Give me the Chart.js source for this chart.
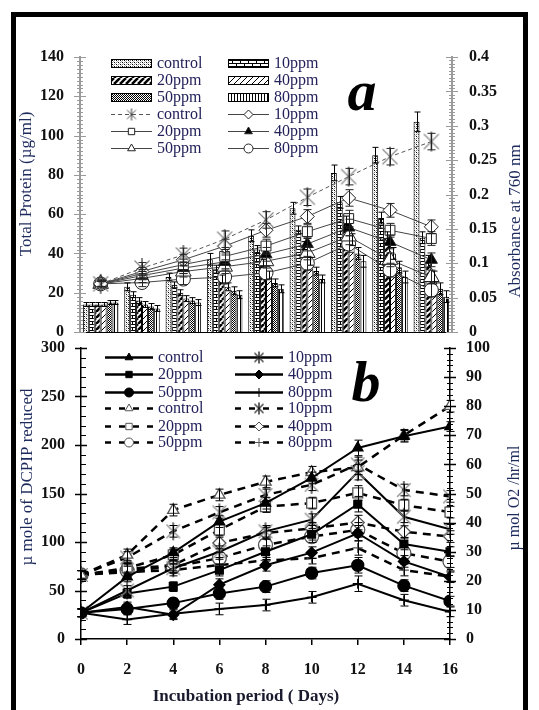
<!DOCTYPE html>
<html>
<head>
<meta charset="utf-8">
<script src="https://cdn.jsdelivr.net/npm/chart.js@4.4.0/dist/chart.umd.min.js"></script>
<style>
  html, body { margin: 0; padding: 0; background: #fff; }
  body { width: 539px; height: 710px; position: relative; overflow: hidden; }
  #marco { position: absolute; left: 11px; top: 12px; width: 507px; height: 720px; border: 5px solid #000; }
  .caja { position: absolute; left: 0; width: 539px; }
  #cajaA { top: 0; height: 345px; }
  #cajaB { top: 336px; height: 374px; }
</style>
</head>
<body>
<div id="marco"></div>
<div class="caja" id="cajaA"><canvas id="chartA"></canvas></div>
<div class="caja" id="cajaB"><canvas id="chartB"></canvas></div>
<script>
// ---- datos ----
const dias = [0, 2, 4, 6, 8, 10, 12, 14, 16];

// panel a: proteina total (barras, µg/ml)
const protControl = [14, 23, 28, 37, 49, 63, 81, 90, 107];
const prot10 = [14, 19, 24, 32, 42, 52, 66, 58, 48];
const prot20 = [14, 16, 20, 27, 35, 44, 56, 48, 36];
const prot40 = [14, 14, 17, 23, 29, 36, 47, 40, 28];
const prot50 = [15, 13, 16, 21, 25, 31, 40, 33, 22];
const prot80 = [15, 12, 15, 19, 22, 27, 36, 28, 18];
const errProtControl = [1, 2, 2, 3, 3, 3, 4, 4, 5];
const errProt = [1, 1.5, 1.5, 2, 2, 2, 3, 3, 3];

// panel a: absorbancia a 760 nm (lineas)
const absControl = [0.07, 0.093, 0.112, 0.135, 0.163, 0.196, 0.226, 0.255, 0.277];
const abs10 = [0.07, 0.088, 0.105, 0.125, 0.148, 0.168, 0.195, 0.177, 0.153];
const abs20 = [0.07, 0.085, 0.098, 0.110, 0.125, 0.146, 0.165, 0.148, 0.136];
const abs40 = [0.07, 0.082, 0.093, 0.102, 0.113, 0.128, 0.152, 0.131, 0.105];
const abs50 = [0.07, 0.078, 0.088, 0.095, 0.103, 0.115, 0.139, 0.105, 0.080];
const abs80 = [0.07, 0.072, 0.077, 0.080, 0.086, 0.100, 0.128, 0.090, 0.061];
const errAbsControl = [0.006, 0.008, 0.01, 0.012, 0.012, 0.012, 0.012, 0.012, 0.012];
const errAbs = [0.004, 0.006, 0.008, 0.01, 0.01, 0.01, 0.012, 0.01, 0.01];

// panel b: DCPIP reducido (lineas continuas)
const dcpipControl = [27, 64, 89, 121, 140, 166, 197, 209, 219];
const dcpip10 = [27, 50, 73, 90, 111, 123, 172, 126, 113];
const dcpip20 = [27, 47, 54, 71, 90, 108, 139, 98, 90];
const dcpip40 = [27, 33, 25, 56, 76, 89, 109, 80, 64];
const dcpip50 = [27, 31, 37, 47, 54, 68, 76, 55, 39];
const dcpip80 = [27, 20, 26, 31, 35, 43, 57, 40, 28];
const errDcpip = [4, 5, 5, 6, 6, 6, 8, 6, 5];

// panel b: O2 (lineas discontinuas, µ mol O2/hr/ml)
const o2Control = [22, 28.9, 44.3, 49.5, 54, 57.3, 59, 70, 80];
const o2_10 = [22, 28, 37, 43.5, 49.5, 53, 60, 51.2, 49];
const o2_20 = [22, 24.4, 28.9, 37.5, 45.5, 46.7, 50.2, 46, 43.6];
const o2_40 = [22, 24, 25.4, 33, 36.4, 38, 40, 36.9, 35.2];
const o2_50 = [22, 23.5, 24.8, 27.8, 32.3, 35.2, 37.5, 29.5, 26.6];
const o2_80 = [22, 23, 23.7, 25.4, 27, 27.8, 31.3, 23.7, 21.4];
const errO2 = [1.5, 2, 2, 2, 2, 2, 2.5, 2, 2];

// ---- estilos ----
const SERIF = "'Liberation Serif', 'DejaVu Serif', serif";
const fuenteTicks = { family: SERIF, size: 16, weight: 'bold' };
const colorTexto = '#22215a';

const ctxA = document.getElementById('chartA').getContext('2d');
const ctxB = document.getElementById('chartB').getContext('2d');

// Crear un patron de relleno a partir de un pequeño lienzo
function patron(w, h, dibujar) {
    const c = document.createElement('canvas');
    c.width = w; c.height = h;
    const g = c.getContext('2d');
    g.fillStyle = '#fff';
    g.fillRect(0, 0, w, h);
    g.fillStyle = '#000';
    g.strokeStyle = '#000';
    dibujar(g, w, h);
    return ctxA.createPattern(c, 'repeat');
}

function diagonales(g, w, h) {
    g.beginPath();
    for (let k = -1; k <= 1; k++) {
        g.moveTo(k * w, h);
        g.lineTo(k * w + w, 0);
    }
    g.stroke();
}

const patControl = patron(4, 4, g => {
    g.fillRect(0, 0, 1, 1); g.fillRect(2, 2, 1, 1);
    g.fillStyle = '#777';
    g.fillRect(2, 0, 1, 1); g.fillRect(0, 2, 1, 1);
    g.fillStyle = '#bbb';
    g.fillRect(1, 1, 1, 1); g.fillRect(3, 3, 1, 1);
});
const pat10 = patron(8, 6, g => {
    g.fillRect(0, 0, 8, 1); g.fillRect(0, 3, 8, 1);
    g.fillRect(0, 0, 1, 3); g.fillRect(4, 3, 1, 3);
});
const pat20 = patron(6, 6, (g, w, h) => { g.lineWidth = 2.6; diagonales(g, w, h); });
const pat40 = patron(6, 6, (g, w, h) => { g.lineWidth = 1; diagonales(g, w, h); });
const pat50 = patron(4, 4, g => {
    g.fillRect(0, 0, 1, 1); g.fillRect(1, 1, 1, 1); g.fillRect(2, 2, 1, 1); g.fillRect(3, 3, 1, 1);
    g.fillRect(2, 0, 1, 1); g.fillRect(0, 2, 1, 1); g.fillRect(3, 1, 1, 1); g.fillRect(1, 3, 1, 1);
});
const pat80 = patron(3, 1, g => { g.fillRect(0, 0, 1, 1); });

// Marcador tipo asterisco de Excel (X mas barra vertical)
function asterisco(r, colorX, colorV, grosor) {
    const s = Math.ceil(r * 2 + 4);
    const c = document.createElement('canvas');
    c.width = s; c.height = s;
    const g = c.getContext('2d');
    const m = s / 2, d = r * 0.75;
    g.lineWidth = grosor;
    g.strokeStyle = colorX;
    g.beginPath();
    g.moveTo(m - d, m - d); g.lineTo(m + d, m + d);
    g.moveTo(m - d, m + d); g.lineTo(m + d, m - d);
    g.stroke();
    g.strokeStyle = colorV;
    g.beginPath();
    g.moveTo(m, m - r); g.lineTo(m, m + r);
    g.stroke();
    return c;
}
const astA = asterisco(10, '#888', '#333', 1.2);
const astAleyenda = asterisco(6, '#555', '#333', 1);
const astB = asterisco(9, '#8a8a8a', '#222', 1.3);
const astBleyenda = asterisco(6, '#333', '#111', 1.3);

// ---- plugins ----
const barrasError = {
    id: 'barrasError',
    afterDatasetsDraw(chart) {
        const ctx = chart.ctx;
        chart.data.datasets.forEach((ds, i) => {
            if (!ds.errores) return;
            const meta = chart.getDatasetMeta(i);
            const escala = chart.scales[ds.yAxisID];
            const cap = ds.capError || 3;
            ctx.save();
            ctx.strokeStyle = ds.colorError || '#000';
            ctx.lineWidth = 1;
            meta.data.forEach((el, j) => {
                const v = meta.controller.getParsed(j).y;
                const e = ds.errores[j];
                const x = Math.round(el.x) + 0.5;
                const y0 = escala.getPixelForValue(v - e);
                const y1 = escala.getPixelForValue(v + e);
                ctx.beginPath();
                ctx.moveTo(x, y0); ctx.lineTo(x, y1);
                ctx.moveTo(x - cap, y0); ctx.lineTo(x + cap, y0);
                ctx.moveTo(x - cap, y1); ctx.lineTo(x + cap, y1);
                ctx.stroke();
            });
            ctx.restore();
        });
    }
};

// marcas menores y mayores de los ejes verticales
function marcas(ctx, escala, paso, izq, der, color, grosor) {
    const x0 = escala.position === 'left' ? escala.right : escala.left;
    ctx.save();
    ctx.strokeStyle = color;
    ctx.lineWidth = grosor;
    ctx.beginPath();
    const n = Math.round((escala.max - escala.min) / paso);
    for (let k = 0; k <= n; k++) {
        const y = Math.round(escala.getPixelForValue(escala.min + k * paso)) + 0.5;
        ctx.moveTo(x0 - izq, y);
        ctx.lineTo(x0 + der, y);
    }
    ctx.stroke();
    ctx.restore();
}

// ancho fijo del eje y sin relleno extra por las etiquetas
function fijarAncho(ancho) {
    return s => {
        s.width = ancho;
        s.paddingTop = 0; s.paddingBottom = 0;
    };
}

function textoVertical(ctx, texto, x, y, fuente, color) {
    ctx.save();
    ctx.translate(x, y);
    ctx.rotate(-Math.PI / 2);
    ctx.font = fuente;
    ctx.fillStyle = color;
    ctx.textAlign = 'center';
    ctx.textBaseline = 'middle';
    ctx.fillText(texto, 0, 0);
    ctx.restore();
}

function leyenda(ctx, chart, cols, filas, ancho) {
    chart.data.datasets.forEach((ds, i) => {
        const x = cols[i % 2];
        const y = filas[Math.floor(i / 2)];
        ctx.save();
        if ((ds.type || chart.config.type) === 'bar') {
            ctx.fillStyle = ds.backgroundColor;
            ctx.fillRect(x, y - 4, ancho, 8);
            ctx.strokeStyle = '#000';
            ctx.lineWidth = 1;
            ctx.strokeRect(x + 0.5, y - 3.5, ancho - 1, 8);
        } else {
            ctx.strokeStyle = ds.borderColor;
            ctx.lineWidth = ds.leyendaGrosor || ds.borderWidth;
            ctx.setLineDash(ds.leyendaDash || ds.borderDash || []);
            ctx.beginPath();
            ctx.moveTo(x, y + 0.5);
            ctx.lineTo(x + ancho, y + 0.5);
            ctx.stroke();
            ctx.setLineDash([]);
            ctx.fillStyle = ds.pointBackgroundColor;
            ctx.strokeStyle = ds.pointBorderColor;
            ctx.lineWidth = 1;
            Chart.helpers.drawPoint(ctx, {
                pointStyle: ds.leyendaMarca || ds.pointStyle,
                radius: ds.leyendaRadio || 4.5,
                rotation: 0,
                borderWidth: 1
            }, x + ancho / 2, y + 0.5);
        }
        ctx.font = '16px ' + SERIF;
        ctx.fillStyle = colorTexto;
        ctx.textBaseline = 'middle';
        ctx.fillText(ds.label, x + ancho + 5, y + 1);
        ctx.restore();
    });
}

const decorA = {
    id: 'decorA',
    afterDraw(chart) {
        const ctx = chart.ctx;
        const { y, y1 } = chart.scales;
        marcas(ctx, y, 2, 3, 3, '#9a9a9a', 1);
        marcas(ctx, y, 20, 6, 6, '#9a9a9a', 1);
        marcas(ctx, y1, 0.005, 3, 3, '#9a9a9a', 1);
        marcas(ctx, y1, 0.05, 6, 6, '#9a9a9a', 1);
        textoVertical(ctx, 'Total Protein (µg/ml)', 27, 184, '17px ' + SERIF, '#1d2a5c');
        textoVertical(ctx, 'Absorbance at 760 nm', 516, 221, '17px ' + SERIF, '#1d2a5c');
        ctx.save();
        ctx.font = 'italic bold 58px ' + SERIF;
        ctx.fillStyle = '#000';
        ctx.textAlign = 'center';
        ctx.fillText('a', 362, 110);
        ctx.restore();
        leyenda(ctx, chart, [111, 228], [63, 80, 97, 114, 131, 148], 41);
    }
};

const decorB = {
    id: 'decorB',
    afterDraw(chart) {
        const ctx = chart.ctx;
        const { y, y1 } = chart.scales;
        marcas(ctx, y, 10, 0, 5, '#000', 1);
        marcas(ctx, y, 50, 6, 6, '#000', 1.5);
        marcas(ctx, y1, 2, 3, 3, '#000', 1);
        marcas(ctx, y1, 10, 6, 6, '#000', 1.5);
        textoVertical(ctx, 'µ mole of DCPIP reduced', 28, 141, '17px ' + SERIF, '#1d2a5c');
        textoVertical(ctx, 'µ mol O2 /hr/ml', 515, 162, '16px ' + SERIF, '#1d2a5c');
        ctx.save();
        ctx.font = 'bold 17px ' + SERIF;
        ctx.fillStyle = '#1a1a2e';
        ctx.textAlign = 'center';
        ctx.textBaseline = 'middle';
        ctx.fillText('Incubation period ( Days)', 246, 361);
        ctx.font = 'italic bold 58px ' + SERIF;
        ctx.fillStyle = '#000';
        ctx.fillText('b', 366, 50);
        ctx.restore();
        leyenda(ctx, chart, [105, 235], [21, 38, 56, 72, 90, 106], 48);
    }
};

// ---- panel a ----
function barra(label, data, fondo, errores) {
    return {
        label, data, errores,
        backgroundColor: fondo,
        borderColor: '#000',
        borderWidth: 1,
        yAxisID: 'y',
        order: 2,
        categoryPercentage: 0.86,
        barPercentage: 1,
        capError: 3
    };
}

function lineaA(label, data, marca, radio, relleno, errores, extra) {
    return Object.assign({
        type: 'line',
        label, data, errores,
        yAxisID: 'y1',
        order: 1,
        borderColor: '#444',
        borderWidth: 1,
        pointStyle: marca,
        pointRadius: radio,
        pointBackgroundColor: relleno,
        pointBorderColor: '#222',
        pointBorderWidth: 1,
        colorError: '#222',
        capError: 4
    }, extra || {});
}

new Chart(ctxA, {
    type: 'bar',
    data: {
        labels: dias,
        datasets: [
            barra('control', protControl, patControl, errProtControl),
            barra('10ppm', prot10, pat10, errProt),
            barra('20ppm', prot20, pat20, errProt),
            barra('40ppm', prot40, pat40, errProt),
            barra('50ppm', prot50, pat50, errProt),
            barra('80ppm', prot80, pat80, errProt),
            lineaA('control', absControl, astA, 10, '#fff', errAbsControl,
                { borderDash: [4, 3], borderColor: '#555', leyendaMarca: astAleyenda }),
            lineaA('10ppm', abs10, 'rectRot', 7, '#fff', errAbs),
            lineaA('20ppm', abs20, 'rect', 7, '#fff', errAbs),
            lineaA('40ppm', abs40, 'triangle', 7, '#000', errAbs),
            lineaA('50ppm', abs50, 'triangle', 9, '#fff', errAbs),
            lineaA('80ppm', abs80, 'circle', 7, '#fff', errAbs)
        ]
    },
    options: {
        responsive: true,
        maintainAspectRatio: false,
        animation: false,
        layout: { padding: { top: 57, bottom: 13, left: 0, right: 0 } },
        plugins: { legend: { display: false }, tooltip: { enabled: false } },
        scales: {
            x: {
                grid: { display: false },
                ticks: { display: false },
                border: { display: true, color: '#000', width: 1 },
                afterFit: s => { s.height = 0; s.paddingLeft = 0; s.paddingRight = 0; }
            },
            y: {
                position: 'left', min: 0, max: 140,
                ticks: { stepSize: 20, padding: 16, font: fuenteTicks, color: '#111' },
                grid: { display: false, drawTicks: false },
                border: { display: true, color: '#9a9a9a', width: 2 },
                afterFit: fijarAncho(80)
            },
            y1: {
                position: 'right', min: 0, max: 0.4,
                ticks: { stepSize: 0.05, padding: 17, font: fuenteTicks, color: '#111',
                    callback: v => String(+v.toFixed(2)) },
                grid: { display: false, drawTicks: false },
                border: { display: true, color: '#9a9a9a', width: 2 },
                afterFit: fijarAncho(87)
            }
        }
    },
    plugins: [barrasError, decorA]
});

// ---- panel b ----
function puntos(valores) {
    return dias.map((d, i) => ({ x: d, y: valores[i] }));
}

function lineaB(label, valores, eje, marca, radio, relleno, discontinua, errores) {
    return {
        label,
        data: puntos(valores),
        errores,
        yAxisID: eje,
        borderColor: '#000',
        borderWidth: discontinua ? 2.5 : 2,
        borderDash: discontinua ? [8, 6] : [],
        leyendaDash: discontinua ? [6, 8] : [],
        leyendaGrosor: 2.5,
        pointStyle: marca === 'ast' ? astB : marca,
        leyendaMarca: marca === 'ast' ? astBleyenda : marca,
        pointRadius: radio,
        pointBackgroundColor: relleno,
        pointBorderColor: discontinua ? '#555' : '#000',
        pointBorderWidth: 1.3,
        colorError: '#000',
        capError: 4
    };
}

new Chart(ctxB, {
    type: 'line',
    data: {
        datasets: [
            lineaB('control', dcpipControl, 'y', 'triangle', 6, '#000', false, errDcpip),
            lineaB('10ppm', dcpip10, 'y', 'ast', 8, '#000', false, errDcpip),
            lineaB('20ppm', dcpip20, 'y', 'rect', 5.5, '#000', false, errDcpip),
            lineaB('40ppm', dcpip40, 'y', 'rectRot', 5.5, '#000', false, errDcpip),
            lineaB('50ppm', dcpip50, 'y', 'circle', 6, '#000', false, errDcpip),
            lineaB('80ppm', dcpip80, 'y', 'cross', 5, '#000', false, errDcpip),
            lineaB('control', o2Control, 'y1', 'triangle', 6.5, '#fff', true, errO2),
            lineaB('10ppm', o2_10, 'y1', 'ast', 8, '#fff', true, errO2),
            lineaB('20ppm', o2_20, 'y1', 'rect', 7, '#fff', true, errO2),
            lineaB('40ppm', o2_40, 'y1', 'rectRot', 6.5, '#fff', true, errO2),
            lineaB('50ppm', o2_50, 'y1', 'circle', 7, '#fff', true, errO2),
            lineaB('80ppm', o2_80, 'y1', 'cross', 5, '#fff', true, errO2)
        ]
    },
    options: {
        responsive: true,
        maintainAspectRatio: false,
        animation: false,
        layout: { padding: { top: 12, bottom: 0, left: 0, right: 0 } },
        plugins: { legend: { display: false }, tooltip: { enabled: false } },
        scales: {
            x: {
                type: 'linear', min: 0, max: 16,
                ticks: { stepSize: 2, padding: 15, font: fuenteTicks, color: '#111' },
                grid: { display: true, drawOnChartArea: false, drawTicks: true, tickLength: 6,
                    color: '#000', lineWidth: 1.5 },
                border: { display: true, color: '#000', width: 1.5 },
                afterFit: s => { s.height = 71; s.paddingLeft = 0; s.paddingRight = 0; }
            },
            y: {
                position: 'left', min: 0, max: 300,
                ticks: { stepSize: 50, padding: 16, font: fuenteTicks, color: '#111' },
                grid: { display: false, drawTicks: false },
                border: { display: true, color: '#000', width: 1.5 },
                afterFit: fijarAncho(81)
            },
            y1: {
                position: 'right', min: 0, max: 100,
                ticks: { stepSize: 10, padding: 16, font: fuenteTicks, color: '#111' },
                grid: { display: false, drawTicks: false },
                border: { display: true, color: '#000', width: 1.5 },
                afterFit: fijarAncho(89)
            }
        }
    },
    plugins: [barrasError, decorB]
});
</script>
</body>
</html>
